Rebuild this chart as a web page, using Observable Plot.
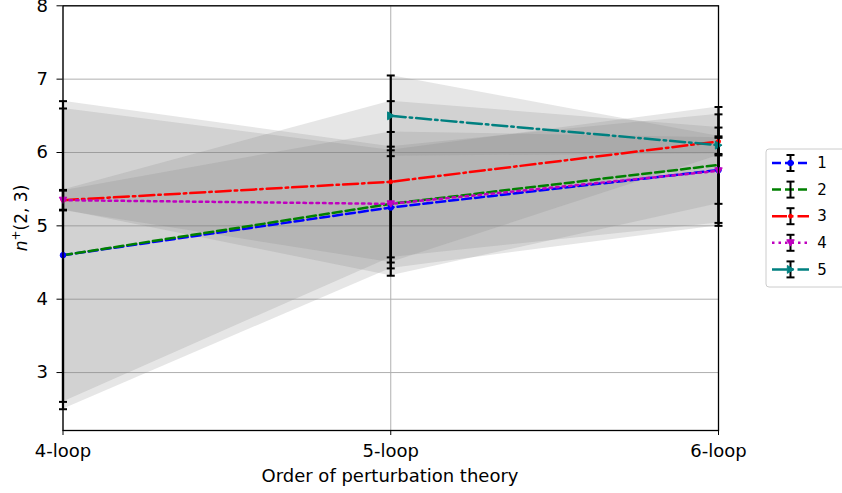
<!DOCTYPE html>
<html>
<head>
<meta charset="utf-8">
<script src="https://cdn.jsdelivr.net/npm/d3@7"></script>
<script src="https://cdn.jsdelivr.net/npm/@observablehq/plot@0.6"></script>
<style>
  html, body { margin: 0; padding: 0; background: white; }
  #chart { position: relative; width: 842px; height: 493px; }
</style>
</head>
<body>
<div id="chart"></div>
<script>
// ---- data ----
const categories = ["4-loop", "5-loop", "6-loop"];
const seriesNames = ["1", "2", "3", "4", "5"];
const values1 = [4.60, 5.25, 5.76];
const errors1 = [2.10, 0.83, 0.76];
const values2 = [4.60, 5.30, 5.83];
const errors2 = [2.00, 0.73, 0.79];
const values3 = [5.35, 5.60, 6.15];
const errors3 = [0.14, 1.10, 0.19];
const values4 = [5.35, 5.30, 5.75];
const errors4 = [0.13, 0.98, 0.45];
const values5 = [null, 6.50, 6.10];
const errors5 = [null, 0.55, 0.12];
const yTicks = [3, 4, 5, 6, 7, 8];

// ---- styles ----
const colors = ["#0000ff", "#008000", "#ff0000", "#bf00bf", "#008080"];
const dashes = ["9,4", "9,4", "15,4,2.5,4", "2.5,4", "15,4,2.5,4"];

const symDown = { draw(ctx, size) { const s = Math.sqrt(size) * 0.62; ctx.moveTo(-s, -s * 0.8); ctx.lineTo(s, -s * 0.8); ctx.lineTo(0, s * 0.9); ctx.closePath(); } };
const symRight = { draw(ctx, size) { const s = Math.sqrt(size) * 0.62; ctx.moveTo(-s * 0.8, -s); ctx.lineTo(s * 0.9, 0); ctx.lineTo(-s * 0.8, s); ctx.closePath(); } };
const symCap = { draw(ctx, size) { const w = Math.sqrt(size / Math.PI); ctx.moveTo(-w, 0); ctx.lineTo(w, 0); } };
const markers = [
  { symbol: "circle", r: 2.8 },
  null,
  { symbol: "circle", r: 2 },
  { symbol: symDown, r: 3.4 },
  { symbol: symRight, r: 3.6 }
];

const allValues = [values1, values2, values3, values4, values5];
const allErrors = [errors1, errors2, errors3, errors4, errors5];
const rows = [];
allValues.forEach((vals, s) => vals.forEach((v, i) => {
  if (v != null) rows.push({ series: seriesNames[s], s, i, y: v, lo: v - allErrors[s][i], hi: v + allErrors[s][i] });
}));
const caps = rows.flatMap(d => [{ i: d.i, y: d.lo }, { i: d.i, y: d.hi }]);

const marks = [
  Plot.gridX([0, 1, 2], { stroke: "#b0b0b0", strokeOpacity: 1, strokeWidth: 1 }),
  Plot.gridY(yTicks, { stroke: "#b0b0b0", strokeOpacity: 1, strokeWidth: 1 }),
  Plot.areaY(rows, { x: "i", y1: "lo", y2: "hi", z: "series", fill: "gray", fillOpacity: 0.2 }),
  Plot.ruleX(rows, { x: "i", y1: "lo", y2: "hi", stroke: "black", strokeWidth: 2.2 }),
  Plot.dot(caps, { x: "i", y: "y", symbol: symCap, r: 4, stroke: "black", strokeWidth: 2, fill: "none" })
];
seriesNames.forEach((name, s) => {
  const data = rows.filter(d => d.s === s);
  marks.push(Plot.line(data, { x: "i", y: "y", stroke: colors[s], strokeWidth: 2.5, strokeDasharray: dashes[s] }));
});
seriesNames.forEach((name, s) => {
  const m = markers[s];
  if (!m) return;
  const data = rows.filter(d => d.s === s);
  marks.push(Plot.dot(data, { x: "i", y: "y", symbol: m.symbol, r: m.r, fill: colors[s], stroke: colors[s], strokeWidth: 1 }));
});
marks.push(Plot.frame({ stroke: "black", strokeWidth: 1.3 }));
marks.push(Plot.axisX([0, 1, 2], { tickFormat: i => categories[i], tickSize: 5, tickPadding: 9, label: null, fontSize: 18 }));
marks.push(Plot.axisY(yTicks, { tickFormat: d3.format("d"), tickSize: 6, tickPadding: 9, label: null, fontSize: 18 }));

const chart = Plot.plot({
  width: 842,
  height: 493,
  marginLeft: 62.5,
  marginRight: 124,
  marginTop: 5.3,
  marginBottom: 63,
  x: { type: "linear", domain: [0, 2] },
  y: { domain: [2.21, 8] },
  style: { fontFamily: "DejaVu Sans", fontSize: "18px", background: "white", color: "black", overflow: "visible" },
  marks
});
document.getElementById("chart").appendChild(chart);

const svg = d3.select(chart);
// axis titles
svg.append("text")
  .attr("x", 390).attr("y", 482)
  .attr("text-anchor", "middle")
  .attr("font-family", "DejaVu Sans").attr("font-size", 18).attr("fill", "black")
  .text("Order of perturbation theory");
const yl = svg.append("text")
  .attr("transform", "translate(27,218) rotate(-90)")
  .attr("text-anchor", "middle")
  .attr("font-family", "DejaVu Sans").attr("font-size", 17).attr("fill", "black");
yl.append("tspan").attr("font-style", "italic").text("n");
yl.append("tspan").attr("dy", -7).attr("font-size", 12).text("+");
yl.append("tspan").attr("dy", 7).text("(2, 3)");

// legend
const lg = svg.append("g").attr("transform", "translate(766,149)");
lg.append("rect").attr("x", 0).attr("y", 0).attr("width", 90).attr("height", 138)
  .attr("rx", 3).attr("fill", "white").attr("fill-opacity", 0.8).attr("stroke", "#cccccc");
const symGen = (sym, r) => d3.symbol(sym === "circle" ? d3.symbolCircle : sym, Math.PI * r * r)();
seriesNames.forEach((name, s) => {
  const yy = 14 + s * 26.6;
  const g = lg.append("g").attr("transform", `translate(0,${yy})`);
  g.append("line").attr("x1", 6).attr("x2", 43).attr("y1", 0).attr("y2", 0)
    .attr("stroke", colors[s]).attr("stroke-width", 2.5).attr("stroke-dasharray", dashes[s]);
  g.append("line").attr("x1", 24.5).attr("x2", 24.5).attr("y1", -8).attr("y2", 8).attr("stroke", "black").attr("stroke-width", 2);
  g.append("line").attr("x1", 20.5).attr("x2", 28.5).attr("y1", -8).attr("y2", -8).attr("stroke", "black").attr("stroke-width", 2);
  g.append("line").attr("x1", 20.5).attr("x2", 28.5).attr("y1", 8).attr("y2", 8).attr("stroke", "black").attr("stroke-width", 2);
  const m = markers[s];
  if (m) g.append("path").attr("transform", "translate(24.5,0)").attr("d", symGen(m.symbol, m.r))
    .attr("fill", colors[s]).attr("stroke", colors[s]);
  g.append("text").attr("x", 56).attr("y", 0).attr("dy", "0.35em")
    .attr("font-family", "DejaVu Sans").attr("font-size", 15).attr("fill", "black").text(name);
});
</script>
</body>
</html>
